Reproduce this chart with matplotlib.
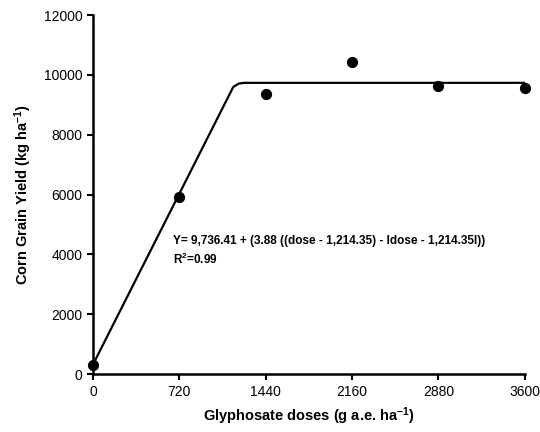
import matplotlib.pyplot as plt

plt.rcParams['font.family'] = ['Liberation Sans', 'DejaVu Sans']
plt.rcParams['mathtext.default'] = 'regular'

# observed data
doses = [0, 720, 1440, 2160, 2880, 3600]
yields = [300, 5910, 9370, 10440, 9640, 9580]

# fitted linear-plateau line (vertices)
fit_x = [0, 1170, 1215, 1260, 3600]
fit_y = [313, 9600, 9710, 9736, 9736]

xticks = [0, 720, 1440, 2160, 2880, 3600]
yticks = [0, 2000, 4000, 6000, 8000, 10000, 12000]

fig = plt.figure(figsize=(5.4, 4.32), dpi=100)
ax = fig.add_axes([0.172, 0.134, 0.8, 0.831])

ax.plot(fit_x, fit_y, color='black', lw=1.6, zorder=2)
ax.scatter(doses, yields, s=50, color='black', zorder=3)

ax.set_xlim(0, 3600)
ax.set_ylim(0, 12000)
ax.set_xticks(xticks)
ax.set_yticks(yticks)
ax.tick_params(labelsize=10, width=1.5, length=4, direction='out')
for side in ['top', 'right']:
    ax.spines[side].set_visible(False)
for side in ['left', 'bottom']:
    ax.spines[side].set_linewidth(1.8)
for c in ax.collections:
    c.set_clip_on(False)

ax.set_xlabel('Glyphosate doses (g a.e. ha$^{-1}$)', fontsize=10.5,
              fontweight='bold', labelpad=5)
ax.set_ylabel('Corn Grain Yield (kg ha$^{-1}$)', fontsize=10.5,
              fontweight='bold', labelpad=7)

ax.text(667, 4450, 'Y= 9,736.41 + (3.88 ((dose - 1,214.35) - Idose - 1,214.35I))',
        fontsize=8.5, fontweight='bold', va='center')
ax.text(667, 3830, 'R$^{2}$=0.99', fontsize=8.5, fontweight='bold', va='center')

fig.savefig('out.png', dpi=100)
